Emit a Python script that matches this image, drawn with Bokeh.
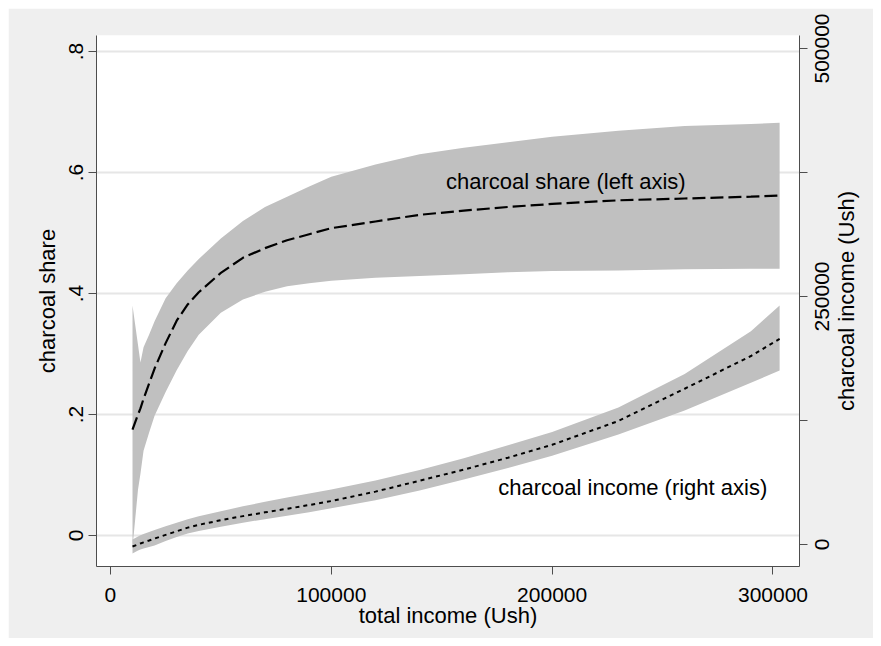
import math
from bokeh.plotting import figure
from bokeh.models import (Range1d, LinearAxis, FixedTicker, Label, ColumnDataSource)
from bokeh.embed import file_html
from bokeh.resources import INLINE

# ---- data ----
total_income = [10000, 12500, 13600, 15000, 17500, 20000, 25000, 30000, 35000, 40000,
                50000, 60000, 70000, 80000, 90000, 100000, 120000, 140000, 160000,
                180000, 200000, 230000, 260000, 290000, 303000]

share_mid = [0.175, 0.200, 0.210, 0.226, 0.251, 0.276, 0.318, 0.355, 0.382, 0.402,
             0.434, 0.459, 0.475, 0.488, 0.498, 0.508, 0.519, 0.530, 0.537,
             0.543, 0.548, 0.554, 0.557, 0.560, 0.562]
share_upper = [0.380, 0.315, 0.286, 0.311, 0.332, 0.354, 0.392, 0.417, 0.438, 0.457,
               0.491, 0.520, 0.543, 0.560, 0.577, 0.593, 0.613, 0.630, 0.641,
               0.650, 0.659, 0.669, 0.677, 0.680, 0.682]
share_lower = [-0.020, 0.076, 0.102, 0.140, 0.170, 0.198, 0.237, 0.273, 0.305, 0.332,
               0.368, 0.390, 0.403, 0.412, 0.417, 0.421, 0.426, 0.429, 0.432,
               0.435, 0.437, 0.438, 0.440, 0.441, 0.441]

income_mid = [-2000, 0, 1000, 2100, 4000, 6000, 9700, 13300, 17000, 19800,
              24500, 28600, 32400, 36000, 39800, 43800, 53300, 64300, 75500,
              87500, 100500, 124500, 157000, 190000, 207300]
income_upper = [5000, 8000, 9200, 10500, 12500, 14500, 18500, 22000, 25500, 28500,
                33500, 38500, 43000, 47500, 51500, 55500, 64500, 75000, 87000,
                100000, 113500, 138000, 172000, 215000, 240900]
income_lower = [-9000, -6000, -5000, -4000, -2500, -1000, 3500, 7500, 11000, 13500,
                18000, 22000, 25500, 29000, 32500, 36500, 44500, 54500, 65500,
                77000, 89500, 111000, 135000, 163000, 175400]

x_ticks = [0, 100000, 200000, 300000]
x_tick_labels = ["0", "100000", "200000", "300000"]
share_ticks = [0, 0.2, 0.4, 0.6, 0.8]
share_tick_labels = ["0", ".2", ".4", ".6", ".8"]
income_ticks = [0, 250000, 500000]
income_minor_ticks = [125000, 375000]
income_tick_labels = ["0", "250000", "500000"]
income_axis_title = "charcoal income (Ush)"

FONT = "Liberation Sans"
FS_PX = 21
FS_LAB_PX = 22
FS = f"{FS_PX}px"
FS_LAB = f"{FS_LAB_PX}px"
AXIS_COL = "#4d4d4d"
BG = "#efefef"

X_MIN, X_MAX = -6300, 312000
S_MIN, S_MAX = -0.0512, 0.8264
I_MIN, I_MAX = -22177, 513105
FRAME_H = 531

src = ColumnDataSource(dict(x=total_income, sm=share_mid, su=share_upper, sl=share_lower,
                            im=income_mid, iu=income_upper, il=income_lower))

p = figure(width=866, height=630, output_backend="svg", toolbar_location=None,
           x_range=Range1d(X_MIN, X_MAX), y_range=Range1d(S_MIN, S_MAX),
           min_border_left=88, min_border_right=74, min_border_top=27, min_border_bottom=72)
p.extra_y_ranges = {"inc": Range1d(I_MIN, I_MAX)}

p.background_fill_color = "white"
p.border_fill_color = BG
p.outline_line_color = None

# bands
p.varea(x="x", y1="sl", y2="su", source=src, fill_color="#c0c0c0")
p.varea(x="x", y1="il", y2="iu", source=src, fill_color="#c0c0c0", y_range_name="inc")
# lines
p.line(x="x", y="sm", source=src, line_color="black", line_width=2.2, line_dash="13 5")
p.line(x="x", y="im", source=src, line_color="black", line_width=2, line_dash="4 4",
       y_range_name="inc")

# axes styling
def style_axis(ax):
    ax.axis_line_color = AXIS_COL
    ax.major_tick_line_color = AXIS_COL
    ax.minor_tick_line_color = AXIS_COL
    ax.major_tick_in = 0
    ax.major_tick_out = 8
    ax.minor_tick_in = 0
    ax.minor_tick_out = 0
    ax.major_label_text_font = FONT
    ax.major_label_text_font_size = FS
    ax.major_label_text_color = "black"
    ax.axis_label_text_font = FONT
    ax.axis_label_text_font_size = FS_LAB
    ax.axis_label_text_font_style = "normal"
    ax.axis_label_text_color = "black"

xa = p.xaxis[0]
style_axis(xa)
xa.ticker = FixedTicker(ticks=x_ticks)
xa.major_label_overrides = {t: l for t, l in zip(x_ticks, x_tick_labels)}
xa.axis_label = "total income (Ush)"
xa.major_label_standoff = 13
xa.axis_label_standoff = -2

ya = p.yaxis[0]
style_axis(ya)
ya.ticker = FixedTicker(ticks=share_ticks)
ya.major_label_overrides = {t: l for t, l in zip(share_ticks, share_tick_labels)}
ya.major_label_orientation = "parallel"
ya.axis_label = "charcoal share"
ya.major_label_standoff = 5
ya.axis_label_standoff = 7

# ---- right axis (bottom-to-top text, as in the reference) ----
# Bokeh starts right-side rotated labels at the anchor, so the anchor is put
# half a text length below the value it labels; the tick marks are drawn as
# minor ticks at the true values.
inc_per_px = (I_MAX - I_MIN) / FRAME_H
def half_len_units(text, px):
    return 0.556 * px * len(text) / 2 * inc_per_px

label_pos = [t - half_len_units(l, FS_PX) for t, l in zip(income_ticks, income_tick_labels)]
ra = LinearAxis(y_range_name="inc")
style_axis(ra)
ra.ticker = FixedTicker(ticks=label_pos, minor_ticks=sorted(income_ticks + income_minor_ticks))
ra.major_tick_line_color = None
ra.major_tick_out = 0
ra.minor_tick_out = 8
ra.major_label_overrides = {pos: l for pos, l in zip(label_pos, income_tick_labels)}
ra.major_label_orientation = math.pi / 2
ra.major_label_standoff = 15
p.add_layout(ra, "right")

# axis title of the right axis, drawn as the single label of an outer axis
title_len_em = 10.002  # "charcoal income (Ush)" in Arial metrics
mid = (I_MIN + I_MAX) / 2
title_pos = mid - title_len_em * FS_LAB_PX / 2 * inc_per_px
ra2 = LinearAxis(y_range_name="inc")
style_axis(ra2)
ra2.axis_line_color = None
ra2.major_tick_line_color = None
ra2.major_tick_out = 0
ra2.ticker = FixedTicker(ticks=[title_pos])
ra2.major_label_overrides = {title_pos: income_axis_title}
ra2.major_label_text_font_size = FS_LAB
ra2.major_label_orientation = math.pi / 2
ra2.major_label_standoff = 7
p.add_layout(ra2, "right")

p.xgrid.visible = False
p.ygrid.ticker = FixedTicker(ticks=share_ticks)
p.ygrid.grid_line_color = "#e6e6e6"
p.ygrid.grid_line_width = 2

p.add_layout(Label(x=206200, y=0.585, text="charcoal share (left axis)",
                   text_font=FONT, text_font_size=FS_LAB, text_color="black",
                   text_align="center", text_baseline="middle"))
p.add_layout(Label(x=236500, y=57460, y_range_name="inc", text="charcoal income (right axis)",
                   text_font=FONT, text_font_size=FS_LAB, text_color="black",
                   text_align="center", text_baseline="middle"))

html = file_html(p, INLINE)
html = html.replace("<body>", "<body style=\"margin:8px;background:white;\">")
open("out.html", "w").write(html)
